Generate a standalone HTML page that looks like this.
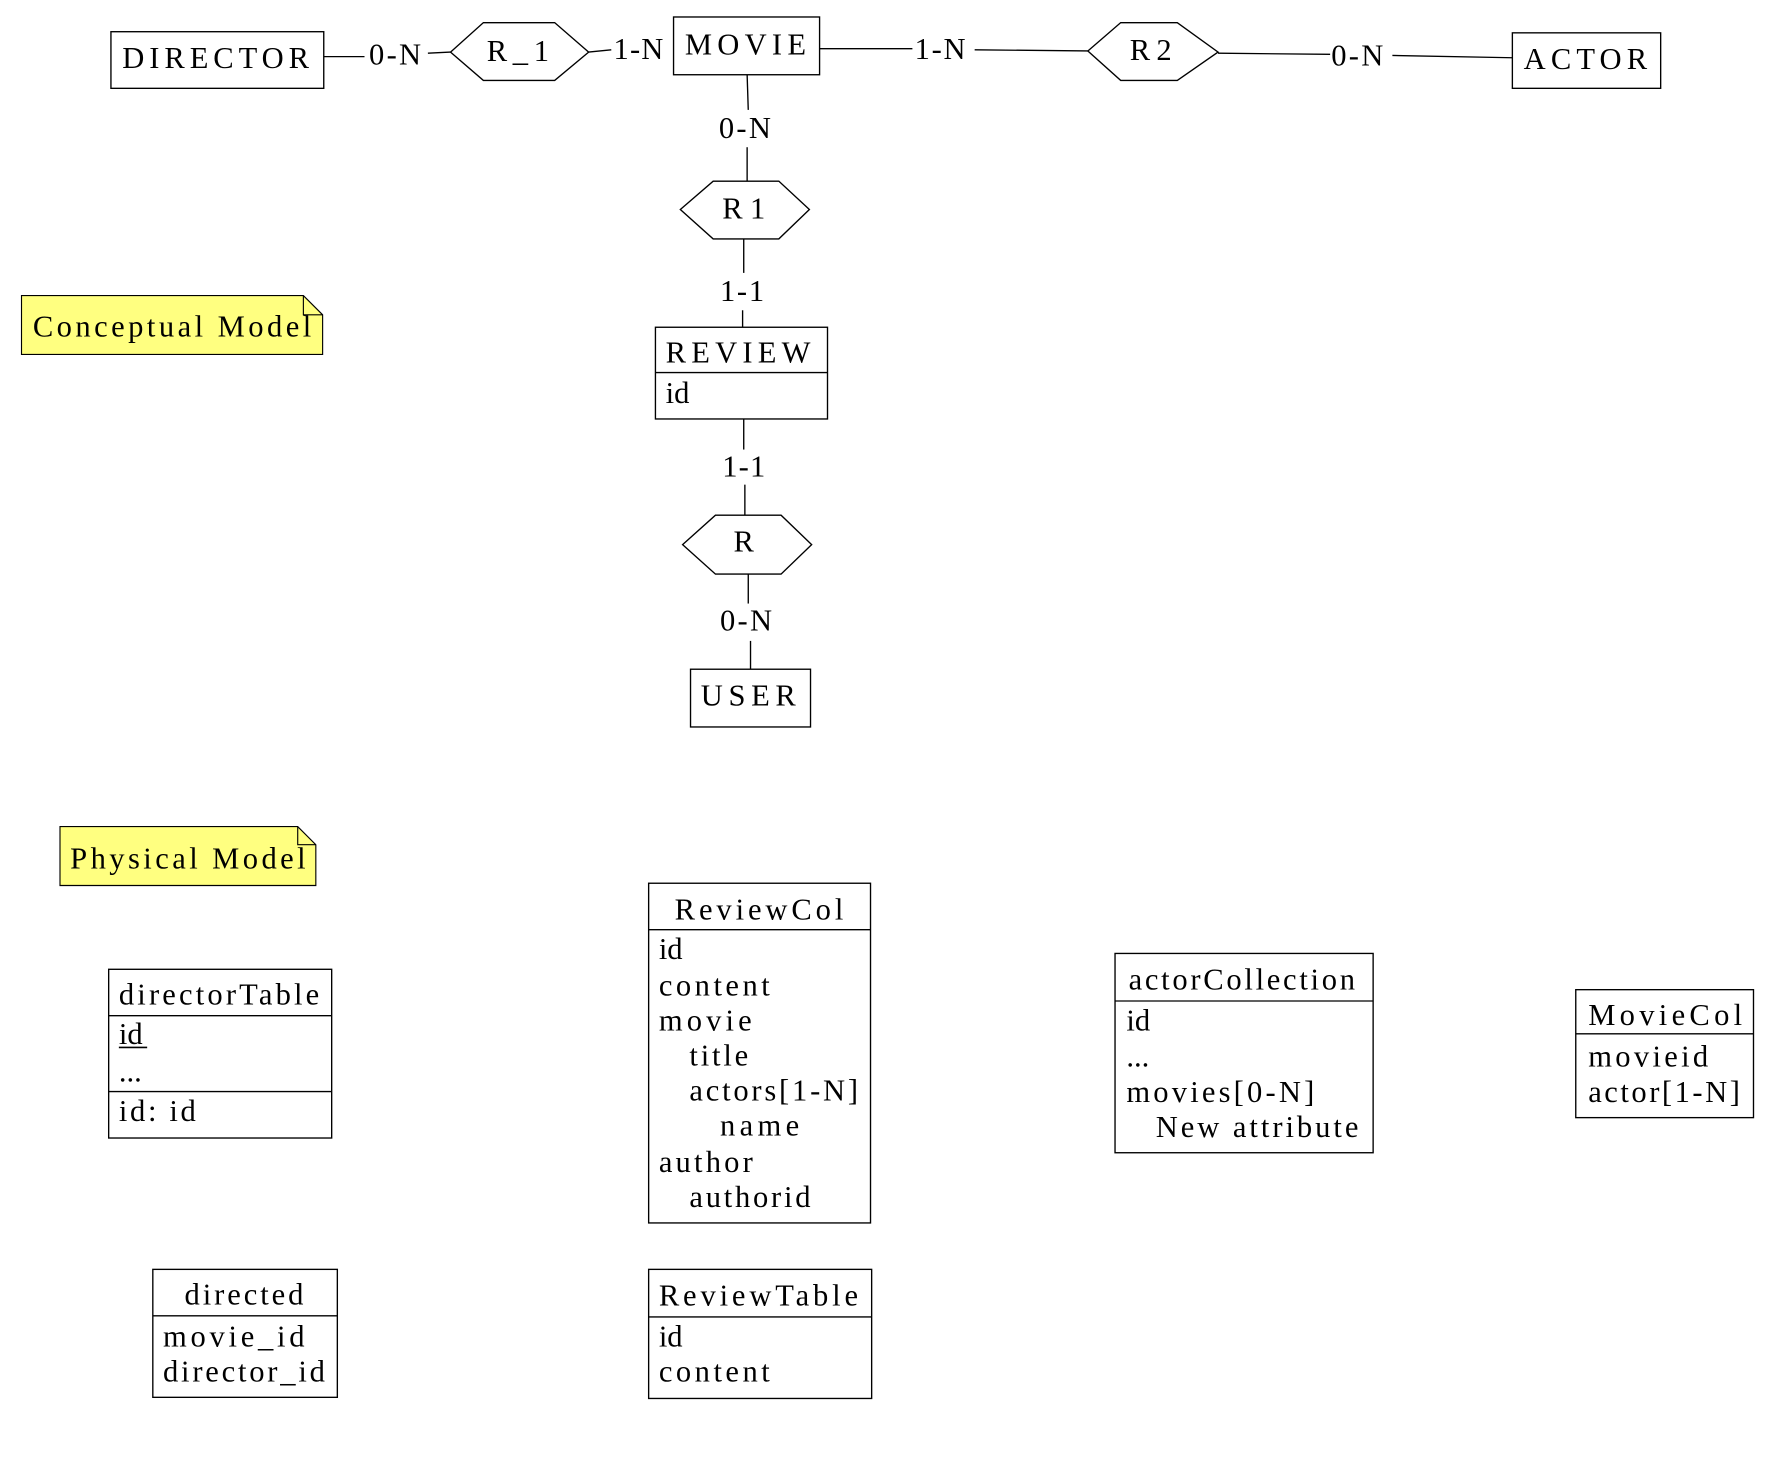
<!DOCTYPE html>
<html><head><meta charset="utf-8"><style>
html,body{margin:0;padding:0;background:#fff;}
svg{display:block;}
text{font-family:"Liberation Serif",serif;font-size:27px;fill:#000;}
</style></head><body>
<svg width="1775" height="1463" viewBox="0 0 1568 1292" preserveAspectRatio="none" xmlns="http://www.w3.org/2000/svg">
<g fill="none" stroke="#000" stroke-width="1.2">
<polyline points="286,50 322,50"/><polyline points="378,47 398,46"/>
<polyline points="520,46 540,44"/>
<polyline points="724,43 806,43"/><polyline points="861,44 961,45"/>
<polyline points="1076,47 1175,48"/><polyline points="1230,49 1336,51"/>
<polyline points="660,66 661,97"/><polyline points="660,130 660,160"/>
<polyline points="657,211 657,241"/><polyline points="656,274 656,289"/>
<polyline points="657,370 657,397"/><polyline points="658,428 658,455"/>
<polyline points="661,507 661,533"/><polyline points="663,566 663,591"/>
<rect x="98" y="28" width="188" height="50"/>
<rect x="595" y="15" width="129" height="51"/>
<rect x="1336" y="29" width="131" height="49"/>
<rect x="579" y="289" width="152" height="81"/><line x1="579" y1="329" x2="731" y2="329"/>
<rect x="610" y="591" width="106" height="51"/>
<polygon points="398,46 427,20 490,20 520,46 490,71 427,71"/>
<polygon points="961,45 990,20 1040,20 1076,46 1040,71 990,71"/>
<polygon points="601,185 630,160 688,160 715,185 688,211 630,211"/>
<polygon points="603,481 632,455 690,455 717,481 690,507 632,507"/>
<rect x="96" y="856" width="197" height="149"/><line x1="96" y1="897" x2="293" y2="897"/><line x1="96" y1="964" x2="293" y2="964"/>
<rect x="135" y="1121" width="163" height="113"/><line x1="135" y1="1162" x2="298" y2="1162"/>
<rect x="573" y="780" width="196" height="300"/><line x1="573" y1="821" x2="769" y2="821"/>
<rect x="573" y="1121" width="197" height="114"/><line x1="573" y1="1163" x2="770" y2="1163"/>
<rect x="985" y="842" width="228" height="176"/><line x1="985" y1="884" x2="1213" y2="884"/>
<rect x="1392" y="874" width="157" height="113"/><line x1="1392" y1="913" x2="1549" y2="913"/>
</g>
<g stroke="#000" stroke-width="1">
<polygon points="19,261 268,261 285,278 285,313 19,313" fill="#ffff80"/>
<polyline points="268,261 268,278 285,278" fill="none"/>
<polygon points="53,730 263,730 279,746 279,782 53,782" fill="#ffff80"/>
<polyline points="263,730 263,746 279,746" fill="none"/>
</g>
<text x="108" y="60" textLength="165" lengthAdjust="spacing">DIRECTOR</text>
<text x="326" y="57" textLength="46" lengthAdjust="spacing">0-N</text>
<text x="430" y="54" textLength="55" lengthAdjust="spacing">R_1</text>
<text x="542" y="52" textLength="44" lengthAdjust="spacing">1-N</text>
<text x="605" y="48" textLength="107" lengthAdjust="spacing">MOVIE</text>
<text x="808" y="52" textLength="45" lengthAdjust="spacing">1-N</text>
<text x="998" y="53" textLength="37" lengthAdjust="spacing">R2</text>
<text x="1176" y="58" textLength="46" lengthAdjust="spacing">0-N</text>
<text x="1346" y="61" textLength="109" lengthAdjust="spacing">ACTOR</text>
<text x="635" y="122" textLength="46" lengthAdjust="spacing">0-N</text>
<text x="638" y="193" textLength="38" lengthAdjust="spacing">R1</text>
<text x="636" y="266" textLength="39" lengthAdjust="spacing">1-1</text>
<text x="588" y="320" textLength="128" lengthAdjust="spacing">REVIEW</text>
<text x="588" y="356">id</text>
<text x="638" y="421" textLength="38" lengthAdjust="spacing">1-1</text>
<text x="648" y="487">R</text>
<text x="636" y="557" textLength="46" lengthAdjust="spacing">0-N</text>
<text x="619" y="623" textLength="84" lengthAdjust="spacing">USER</text>
<text x="29" y="297" textLength="246" lengthAdjust="spacing">Conceptual Model</text>
<text x="62" y="767" textLength="208" lengthAdjust="spacing">Physical Model</text>

<text x="105" y="887" textLength="177" lengthAdjust="spacing">directorTable</text>
<text x="105" y="922">id</text>
<line x1="105" y1="925" x2="130" y2="925" stroke="#000" stroke-width="1.5"/>
<text x="105" y="955">...</text>
<text x="105" y="990" textLength="68" lengthAdjust="spacing">id: id</text>

<text x="163" y="1152" textLength="105" lengthAdjust="spacing">directed</text>
<text x="144" y="1189" textLength="125" lengthAdjust="spacing">movie_id</text>
<text x="144" y="1220" textLength="143" lengthAdjust="spacing">director_id</text>

<text x="596" y="812" textLength="149" lengthAdjust="spacing">ReviewCol</text>
<text x="582" y="847">id</text>
<text x="582" y="879" textLength="98" lengthAdjust="spacing">content</text>
<text x="582" y="910" textLength="82" lengthAdjust="spacing">movie</text>
<text x="609" y="941" textLength="52" lengthAdjust="spacing">title</text>
<text x="609" y="972" textLength="149" lengthAdjust="spacing">actors[1-N]</text>
<text x="636" y="1003" textLength="70" lengthAdjust="spacing">name</text>
<text x="582" y="1035" textLength="83" lengthAdjust="spacing">author</text>
<text x="609" y="1066" textLength="107" lengthAdjust="spacing">authorid</text>

<text x="582" y="1153" textLength="176" lengthAdjust="spacing">ReviewTable</text>
<text x="582" y="1189">id</text>
<text x="582" y="1220" textLength="98" lengthAdjust="spacing">content</text>

<text x="997" y="874" textLength="200" lengthAdjust="spacing">actorCollection</text>
<text x="995" y="910">id</text>
<text x="995" y="942">...</text>
<text x="995" y="973" textLength="166" lengthAdjust="spacing">movies[0-N]</text>
<text x="1021" y="1004" textLength="179" lengthAdjust="spacing">New attribute</text>

<text x="1403" y="905" textLength="136" lengthAdjust="spacing">MovieCol</text>
<text x="1403" y="942" textLength="106" lengthAdjust="spacing">movieid</text>
<text x="1403" y="973" textLength="134" lengthAdjust="spacing">actor[1-N]</text>
</svg>
</body></html>
